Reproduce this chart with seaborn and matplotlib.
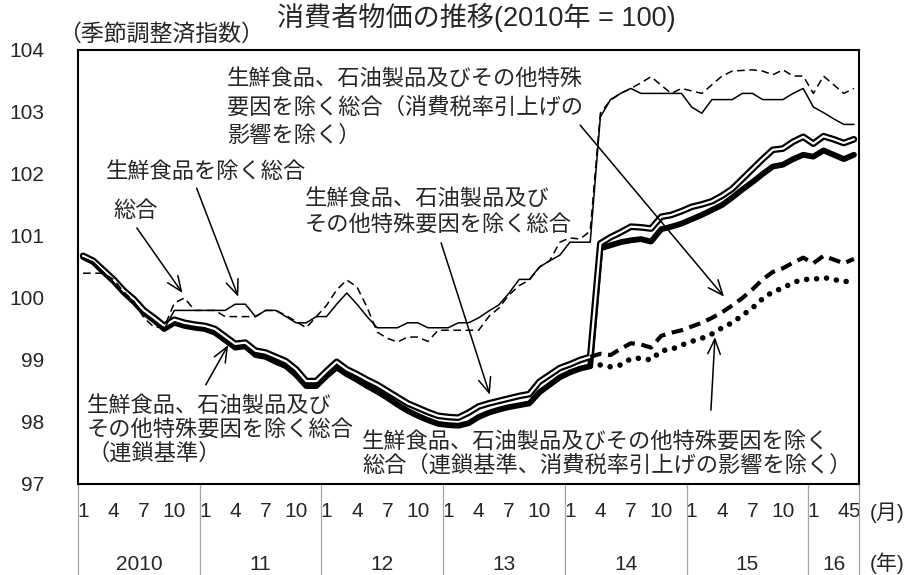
import numpy as np
import pandas as pd
import matplotlib
matplotlib.use("Agg")
import matplotlib.pyplot as plt
import matplotlib.transforms as mtransforms
import seaborn as sns

# 月次：2010年1月〜2016年5月
periods = pd.period_range("2010-01", "2016-05", freq="M")

# 総合
headline = [100.4, 100.4, 100.4, 100.3, 100.1, 99.95, 99.68, 99.53, 99.53, 99.92,
            100.0, 99.8, 99.8, 99.8, 99.7, 99.7, 99.7, 99.7, 99.8, 99.8,
            99.72, 99.62, 99.52, 99.7, 99.88, 100.13, 100.29, 100.18, 99.85, 99.45,
            99.35, 99.29, 99.37, 99.37, 99.3, 99.48, 99.48, 99.48, 99.48, 99.48,
            99.7, 99.84, 100.05, 100.2, 100.29, 100.5, 100.6, 100.9, 100.97, 100.95,
            101.08, 102.98, 103.19, 103.3, 103.38, 103.47, 103.57, 103.43, 103.3, 103.38,
            103.34, 103.3, 103.44, 103.58, 103.66, 103.67, 103.68, 103.66, 103.6, 103.68,
            103.58, 103.58, 103.3, 103.58, 103.44, 103.3, 103.38]
# 生鮮食品を除く総合
core = [100.65, 100.58, 100.42, 100.25, 100.05, 99.9, 99.75, 99.62, 99.5, 99.8,
        99.8, 99.8, 99.8, 99.8, 99.8, 99.9, 99.9, 99.7, 99.8, 99.8,
        99.7, 99.6, 99.6, 99.7, 99.7, 99.9, 100.08, 99.9, 99.7, 99.52,
        99.52, 99.52, 99.6, 99.6, 99.52, 99.52, 99.52, 99.6, 99.6, 99.68,
        99.79, 99.89, 100.08, 100.3, 100.3, 100.5, 100.6, 100.69, 100.9, 100.9,
        100.9, 102.92, 103.2, 103.3, 103.38, 103.3, 103.3, 103.3, 103.3, 103.3,
        103.08, 102.98, 103.2, 103.2, 103.2, 103.3, 103.3, 103.2, 103.2, 103.2,
        103.3, 103.38, 103.08, 102.99, 102.89, 102.8, 102.8]
# 生鮮食品、石油製品及びその他特殊要因を除く総合
core_core = [100.68, 100.6, 100.45, 100.3, 100.12, 99.98, 99.8, 99.68, 99.55, 99.65,
             99.6, 99.57, 99.55, 99.5, 99.38, 99.26, 99.28, 99.15, 99.12, 99.05,
             98.98, 98.85, 98.66, 98.66, 98.82, 98.97, 98.85, 98.77, 98.68, 98.6,
             98.5, 98.4, 98.3, 98.23, 98.16, 98.1, 98.08, 98.07, 98.15, 98.25,
             98.3, 98.34, 98.38, 98.42, 98.45, 98.65, 98.76, 98.87, 98.93, 99.0,
             99.05, 100.88, 100.98, 101.06, 101.15, 101.14, 101.12, 101.31, 101.34, 101.4,
             101.47, 101.51, 101.56, 101.65, 101.76, 101.92, 102.08, 102.24, 102.39, 102.41,
             102.52, 102.6, 102.49, 102.61, 102.56, 102.5, 102.56]
# 同（連鎖基準）
core_core_chain = [100.66, 100.58, 100.42, 100.27, 100.09, 99.94, 99.76, 99.64, 99.5, 99.6,
                   99.55, 99.52, 99.5, 99.44, 99.32, 99.2, 99.22, 99.08, 99.05, 98.97,
                   98.9, 98.76, 98.58, 98.58, 98.74, 98.88, 98.77, 98.68, 98.58, 98.49,
                   98.39, 98.28, 98.18, 98.1, 98.03, 97.97, 97.95, 97.94, 97.98, 98.08,
                   98.15, 98.2, 98.24, 98.27, 98.3, 98.48, 98.6, 98.72, 98.8, 98.86,
                   98.9, 100.8, 100.85, 100.9, 100.93, 100.95, 100.91, 101.11, 101.15, 101.2,
                   101.27, 101.34, 101.42, 101.5, 101.62, 101.75, 101.87, 102.0, 102.12, 102.15,
                   102.24, 102.31, 102.28, 102.38, 102.31, 102.24, 102.31]
# 消費税率引上げの影響を除く系列（2014年3月から）
ex_tax_start = pd.Period("2014-03", freq="M")
core_core_ex_tax = [99.05, 99.1, 99.08, 99.18, 99.27, 99.25, 99.2, 99.39, 99.44, 99.48,
                    99.54, 99.6, 99.68, 99.77, 99.88, 100.0, 100.14, 100.3, 100.42, 100.48,
                    100.57, 100.65, 100.56, 100.68, 100.62, 100.56, 100.63]
core_core_chain_ex_tax = [98.9, 98.92, 98.89, 98.92, 99.02, 99.03, 99.0, 99.15, 99.17, 99.24,
                          99.3, 99.35, 99.42, 99.52, 99.6, 99.72, 99.84, 99.99, 100.1, 100.16,
                          100.25, 100.3, 100.3, 100.33, 100.3, 100.26, 100.29]

tick_months = [1, 4, 7, 10]
y_ticks = [97, 98, 99, 100, 101, 102, 103, 104]

sns.set_style("white")
plt.rcParams['font.family'] = ['Liberation Sans', 'Noto Sans CJK JP']

idx = np.arange(len(periods))
df = pd.DataFrame({"idx": idx, "headline": headline, "core": core,
                   "core_core": core_core, "chain": core_core_chain})
start = int((ex_tax_start - periods[0]).n)
df_ex = pd.DataFrame({"idx": np.arange(start, start + len(core_core_ex_tax)),
                      "ex_tax": core_core_ex_tax, "chain_ex_tax": core_core_chain_ex_tax})

fig = plt.figure(figsize=(9.17, 5.75), dpi=100)
ax = fig.add_axes([78 / 917, 1 - 484 / 575, 781 / 917, 434 / 575])

common = dict(ax=ax, estimator=None, errorbar=None, color="black",
              solid_joinstyle="round", dash_joinstyle="round")
sns.lineplot(data=df, x="idx", y="chain", linewidth=4.2, **common)
sns.lineplot(data=df, x="idx", y="core_core", linewidth=4.8, **common)
sns.lineplot(data=df, x="idx", y="core_core", linewidth=1.6,
             **{**common, "color": "white"})
sns.lineplot(data=df_ex, x="idx", y="ex_tax", linewidth=3.0,
             linestyle=(0, (2.8, 1.6)), **common)
sns.lineplot(data=df_ex, x="idx", y="chain_ex_tax", linewidth=4.0,
             linestyle=(0, (0.01, 1.8)), dash_capstyle="round", **common)
sns.lineplot(data=df, x="idx", y="core", linewidth=1.1, **common)
sns.lineplot(data=df, x="idx", y="headline", linewidth=1.1,
             linestyle=(0, (5, 3)), **common)

ax.set_xlim(-0.5, len(periods) - 0.5)
ax.set_ylim(97, 104)
ax.set_yticks(y_ticks)
ax.set_yticklabels([str(v) for v in y_ticks])
ax.tick_params(axis="y", direction="in", length=5, width=0.8, color="#808080",
               pad=24, labelsize=15)

# 月ラベル（最終月も表示）
xt = [i for i, p in enumerate(periods) if p.month in tick_months or i == len(periods) - 1]
ax.set_xticks(xt)
ax.set_xticklabels([str(periods[i].month) for i in xt])
ax.tick_params(axis="x", length=0, pad=13, labelsize=15)
ax.set_xlabel("")
ax.set_ylabel("")

for s in ax.spines.values():
    s.set_color("black")
    s.set_linewidth(1.5)

# 年ラベルと区切り線
trans = mtransforms.blended_transform_factory(ax.transData, ax.transAxes)
years = sorted(set(p.year for p in periods))
for y in years:
    pos = [i for i, p in enumerate(periods) if p.year == y]
    label = str(y) if y == years[0] else str(y % 100)
    ax.text((pos[0] + pos[-1]) / 2, -0.185, label, transform=trans,
            ha="center", va="center", fontsize=15)
    ax.plot([pos[0] - 0.5] * 2, [0, -0.22], transform=trans, color="#a6a6a6",
            lw=0.9, clip_on=False)
ax.plot([len(periods) - 0.5] * 2, [0, -0.22], transform=trans, color="#a6a6a6",
        lw=0.9, clip_on=False)

fig.text(870 / 917, 1 - 513 / 575, "(月)", ha="left", va="center", fontsize=15)
fig.text(870 / 917, 1 - 563 / 575, "(年)", ha="left", va="center", fontsize=15)

fig.text(476 / 917, 1 - 17 / 575, "消費者物価の推移(2010年 = 100)",
         ha="center", va="center", fontsize=19.5)
fig.text(58 / 917, 1 - 34 / 575, "（季節調整済指数）", ha="left", va="center", fontsize=16.5)

# 注記
fs = 16
ax.text(14.2, 103.06, "生鮮食品、石油製品及びその他特殊\n要因を除く総合（消費税率引上げの\n影響を除く）",
        fontsize=fs, ha="left", va="center", linespacing=1.45)
ax.text(2.2, 102.02, "生鮮食品を除く総合", fontsize=fs, ha="left", va="center")
ax.text(3.0, 101.39, "総合", fontsize=fs, ha="left", va="center")
ax.text(21.9, 101.38, "生鮮食品、石油製品及び\nその他特殊要因を除く総合",
        fontsize=fs, ha="left", va="center", linespacing=1.35)
ax.text(0.4, 97.87, "生鮮食品、石油製品及び\nその他特殊要因を除く総合\n（連鎖基準）",
        fontsize=fs, ha="left", va="center", linespacing=1.17)
ax.text(27.5, 97.48, "生鮮食品、石油製品及びその他特殊要因を除く\n総合（連鎖基準、消費税率引上げの影響を除く）",
        fontsize=fs, ha="left", va="center", linespacing=1.17)

arrow = dict(arrowstyle="->,head_length=0.6,head_width=0.25", color="black",
             lw=1.1, mutation_scale=18, shrinkA=0, shrinkB=0)
arrows = [((49.0, 102.79), (63.2, 100.02)),
          ((11.2, 101.77), (15.3, 100.02)),
          ((5.3, 101.13), (9.8, 100.08)),
          ((35.3, 100.89), (40.1, 98.44)),
          ((12.1, 98.6), (14.3, 99.24)),
          ((61.9, 98.19), (62.3, 99.37))]
for tail, tip in arrows:
    ax.annotate("", xy=tip, xytext=tail, arrowprops=arrow)

fig.savefig("out.png", dpi=100)
